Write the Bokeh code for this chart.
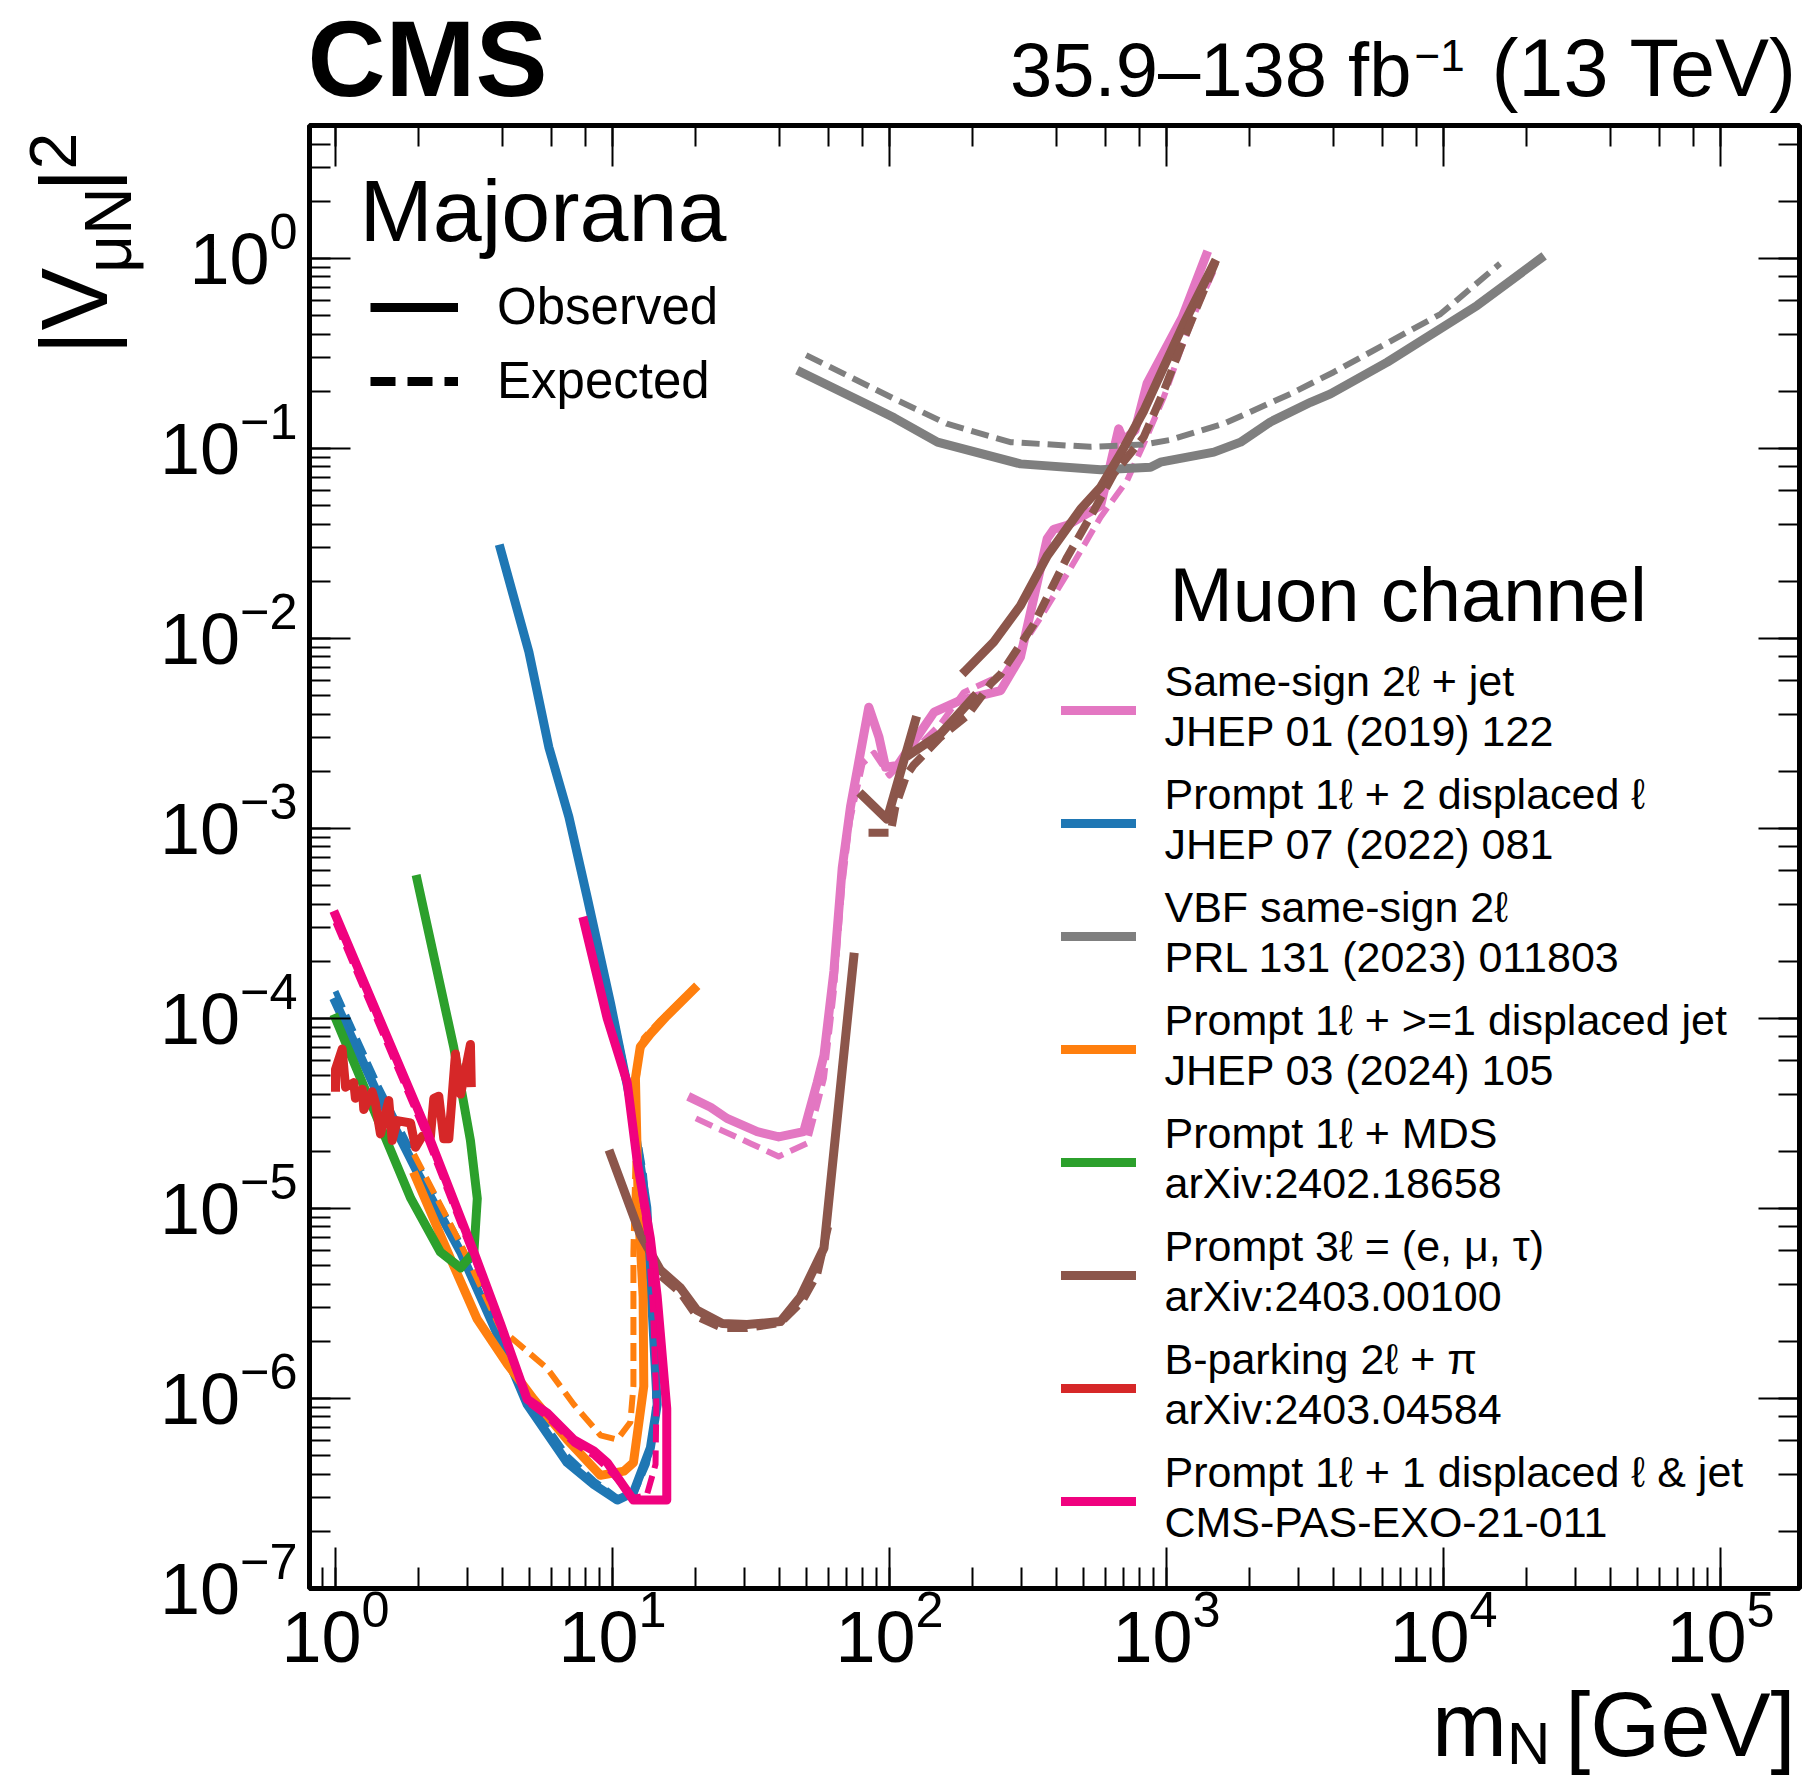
import math
import numpy as np
from bokeh.plotting import figure
from bokeh.layouts import column, row
from bokeh.models import (Range1d, LogAxis, LogTicker, LogScale, Label, Legend, LegendItem,
                          CustomJSTickFormatter)
from bokeh.embed import file_html
from bokeh.resources import INLINE

# ---------------------------------------------------------------------------
# Exclusion limits on |V_muN|^2 versus heavy neutral lepton mass m_N [GeV]
# ---------------------------------------------------------------------------

# Same-sign 2l + jet, JHEP 01 (2019) 122
ss_obs_m = [19.4, 22.6, 25.9, 33.3, 39.8, 49, 54.8, 58, 63, 67.5, 72.3, 84.2, 91.6, 96.8,
            107, 145, 180, 252, 297, 371, 392, 438, 578, 628, 672, 700, 770, 851, 1140, 1390]
ss_obs_v = [3.8e-5, 3.41e-5, 2.98e-5, 2.54e-5, 2.38e-5, 2.54e-5, 4.6e-5, 6.4e-5, 1.78e-4,
            6.2e-4, 1.3e-3, 4.35e-3, 3.03e-3, 2.1e-3, 2.15e-3, 4.1e-3, 4.72e-3, 5.32e-3,
            8.0e-3, 0.0336, 0.0376, 0.0394, 0.05, 0.083, 0.127, 0.11, 0.125, 0.22, 0.49, 1.04]
ss_exp_m = [20, 24.5, 31.5, 39.8, 50.4, 54.8, 58, 63, 67.5, 72, 80, 88, 100, 120, 153, 185,
            259, 305, 351, 438, 578, 721, 828, 977, 1124, 1291, 1483]
ss_exp_v = [2.98e-5, 2.6e-5, 2.2e-5, 1.88e-5, 2.2e-5, 3.5e-5, 4.85e-5, 1.4e-4, 5e-4, 1.1e-3,
            2.2e-3, 2.5e-3, 1.9e-3, 2.5e-3, 3.56e-3, 5.2e-3, 6.5e-3, 9.4e-3, 0.0129, 0.0219,
            0.0435, 0.0679, 0.106, 0.186, 0.328, 0.554, 0.865]

# Prompt 1l + 2 displaced l, JHEP 07 (2022) 081
dl_obs_m = [1.0, 1.41, 1.97, 2.83, 3.94, 4.92, 6.86, 8.56, 10.4, 11.9, 13.7, 14.5, 14.1,
            13.3, 11.6, 9.84, 8.1, 6.96, 5.89, 4.99, 3.94]
dl_obs_v = [1.22e-4, 4.1e-5, 1.56e-5, 5.9e-6, 2.0e-6, 9.3e-7, 4.6e-7, 3.53e-7, 2.92e-7,
            3.2e-7, 5.5e-7, 9.3e-7, 2.0e-6, 1.01e-5, 3.7e-5, 1.2e-4, 4.35e-4, 1.15e-3,
            2.68e-3, 8.5e-3, 0.0296]
dl_exp_m = [1.0, 1.41, 1.97, 2.83, 3.94, 4.92, 6.86, 8.56, 10.4, 11.9, 13.3, 14.2, 14.3,
            13.8, 13.0, 11.6, 9.84, 8.1, 6.96, 5.89, 4.99, 3.94]
dl_exp_v = [1.39e-4, 4.6e-5, 1.75e-5, 6.5e-6, 2.2e-6, 1.0e-6, 5.0e-7, 3.7e-7, 3.0e-7,
            3.1e-7, 4.5e-7, 7.5e-7, 1.6e-6, 5e-6, 1.5e-5, 4e-5, 1.25e-4, 4.4e-4, 1.15e-3,
            2.68e-3, 8.5e-3, 0.0296]

# VBF same-sign 2l, PRL 131 (2023) 011803
vbf_obs_m = [48, 85, 104, 149, 297, 578, 876, 951, 1483, 1850, 2372, 3311, 3909, 6270,
             13240, 22400]
vbf_obs_v = [0.252, 0.168, 0.145, 0.108, 0.083, 0.0773, 0.0797, 0.0847, 0.0957, 0.108,
             0.138, 0.175, 0.194, 0.285, 0.566, 1.0]
vbf_exp_m = [50, 107, 161, 273, 532, 828, 1033, 1610, 2805, 4010, 9750, 16000]
vbf_exp_v = [0.31, 0.179, 0.135, 0.108, 0.102, 0.105, 0.111, 0.135, 0.194, 0.252, 0.51, 0.94]

# Prompt 1l + >=1 displaced jet, JHEP 03 (2024) 105
dj_obs_m = [1.94, 2.67, 3.25, 4.17, 5.2, 6.86, 9.05, 11.0, 11.9, 12.97, 12.9, 12.4, 12.1,
            12.6, 13.7, 15.7, 19.7]
dj_obs_v = [1.48e-5, 5.0e-6, 2.61e-6, 1.52e-6, 9.9e-7, 6.07e-7, 3.94e-7, 4.15e-7, 4.6e-7,
            1.16e-6, 3.43e-6, 1.01e-5, 4.85e-5, 7.1e-5, 8.3e-5, 1.03e-4, 1.43e-4]
dj_exp_m = [1.92, 2.83, 3.94, 5.81, 7.25, 9.05, 10.4, 11.6, 11.9, 11.9, 12.1, 12.3, 12.97,
            14.9, 19.7]
dj_exp_v = [1.93e-5, 6.5e-6, 2.34e-6, 1.44e-6, 9.3e-7, 6.4e-7, 6.07e-7, 7.5e-7, 1.16e-6,
            5.9e-6, 1.74e-5, 5.7e-5, 7.9e-5, 9.8e-5, 1.45e-4]

# Prompt 1l + MDS, arXiv:2402.18658
mds_obs_m = [1.0, 1.87, 2.39, 2.83, 3.16, 3.25, 3.07, 2.67, 1.97]
mds_obs_v = [1.0e-4, 1.13e-5, 5.9e-6, 4.87e-6, 5.9e-6, 1.13e-5, 2.28e-5, 7.1e-5, 5.4e-4]

# Prompt 3l = (e, mu, tau), arXiv:2403.00100 (several mass windows)
tl_obs_m = [[9.84, 12.6, 14.9, 17.6, 20.2, 24.9, 30.6, 40.4, 47.7, 58, 74.3],
            [80, 98, 124],
            [119, 153, 201],
            [188, 238, 297, 371, 490, 578, 682, 828, 977, 1154, 1483]]
tl_obs_v = [[1.93e-5, 7.3e-6, 4.74e-6, 3.82e-6, 2.91e-6, 2.48e-6, 2.45e-6, 2.54e-6, 3.43e-6,
             6.2e-6, 2.1e-4],
            [1.49e-3, 1.12e-3, 3.7e-3],
            [2.47e-3, 3.15e-3, 4.9e-3],
            [6.76e-3, 9.6e-3, 0.0149, 0.0272, 0.048, 0.0625, 0.0938, 0.158, 0.268, 0.453, 0.938]]
tl_exp_m = [[15, 17.6, 20.2, 24.9, 30.6, 40.4, 48.4, 54.8, 60],
            [84, 101, 105, 115, 122, 153, 191, 232, 252, 332, 438, 547, 645, 828, 977, 1124,
             1291, 1500]]
tl_exp_v = [[4.4e-6, 3.6e-6, 2.7e-6, 2.35e-6, 2.35e-6, 2.5e-6, 3.25e-6, 4.5e-6, 8e-6],
            [9.5e-4, 9.5e-4, 1.3e-3, 1.9e-3, 2.15e-3, 3.03e-3, 3.93e-3, 5.78e-3, 6.5e-3,
             0.0119, 0.0268, 0.0472, 0.0736, 0.115, 0.2, 0.34, 0.56, 0.95]]

# B-parking 2l + pi, arXiv:2403.04584
bp_obs_m = [1.0, 1.0, 1.057, 1.087, 1.164, 1.18, 1.25, 1.265, 1.356, 1.393, 1.453, 1.557,
            1.602, 1.671, 1.866, 1.944, 2.056, 2.202, 2.264, 2.36, 2.46, 2.565, 2.71, 2.83,
            3.07, 3.09]
bp_obs_v = [4.35e-5, 5.4e-5, 6.9e-5, 4.35e-5, 4.6e-5, 3.8e-5, 4.24e-5, 3.32e-5, 4.12e-5,
            3.6e-5, 2.47e-5, 3.7e-5, 2.28e-5, 2.9e-5, 2.82e-5, 2.1e-5, 2.4e-5, 2.4e-5,
            3.8e-5, 3.9e-5, 2.33e-5, 2.33e-5, 6.5e-5, 4.0e-5, 7.3e-5, 4.6e-5]

# Prompt 1l + 1 displaced l & jet, CMS-PAS-EXO-21-011
lj_obs_m = [1.0, 2.08, 3.16, 3.94, 4.92, 5.81, 7.25, 8.56, 9.57, 11.9, 15.7, 15.7, 14.5,
            13.7, 12.3, 11.3, 9.57, 7.88]
lj_obs_v = [3.5e-4, 2.82e-5, 5.9e-6, 2.48e-6, 9.9e-7, 8.4e-7, 6.07e-7, 5.3e-7, 4.6e-7,
            2.92e-7, 2.92e-7, 8.85e-7, 3.44e-6, 6.95e-6, 1.74e-5, 4.6e-5, 1.0e-4, 3.25e-4]
lj_exp_m = [1.0, 2.08, 3.16, 3.94, 4.92, 5.81, 7.25, 8.56, 9.57, 11.9, 13.3, 14.3, 14.4,
            14.0, 13.5, 12.3, 11.3, 9.57, 7.88]
lj_exp_v = [3.2e-4, 2.6e-5, 5.5e-6, 2.35e-6, 9.6e-7, 8.0e-7, 5.8e-7, 5.0e-7, 4.3e-7,
            3.0e-7, 3.1e-7, 4.5e-7, 9.5e-7, 3.0e-6, 6.5e-6, 1.7e-5, 4.5e-5, 1.0e-4, 3.25e-4]

# legend text: analysis (first line) and publication (second line)
legend_titles = ["Same-sign 2ℓ + jet", "Prompt 1ℓ + 2 displaced ℓ", "VBF same-sign 2ℓ",
                 "Prompt 1ℓ + >=1 displaced jet", "Prompt 1ℓ + MDS", "Prompt 3ℓ = (e, μ, τ)",
                 "B-parking 2ℓ + π", "Prompt 1ℓ + 1 displaced ℓ & jet"]
legend_refs = ["JHEP 01 (2019) 122", "JHEP 07 (2022) 081", "PRL 131 (2023) 011803",
               "JHEP 03 (2024) 105", "arXiv:2402.18658", "arXiv:2403.00100",
               "arXiv:2403.04584", "CMS-PAS-EXO-21-011"]
colors = ["#e377c2", "#1f77b4", "#7f7f7f", "#ff7f0e", "#2ca02c", "#8c564b", "#d62728",
          "#f0027f"]

# ---------------------------------------------------------------------------
# Page geometry (pixels from the top-left corner of the page)
# ---------------------------------------------------------------------------
FONT = "Liberation Sans"
W, H = 1803, 1779
HEAD_H = 122                                   # header strip (CMS + luminosity)
SIDE_W = 150                                   # strip holding the y-axis title
FOOT_Y = 1678                                  # top of strip holding the x-axis title
FL, FR, FT, FB = 309, 1799, 125, 1588          # plot frame edges
DEC_X, DEC_Y = 277.0, 190.0                    # pixels per decade
X1_PX, Y1_PX = 335.0, 258.0                    # pixel position of x=1 and y=1
MID = 0.38                                     # baseline -> text middle, in em
YLAB_LIFT = 11                                 # raise y tick labels so "10" sits on the tick


def xd(px):
    return 10 ** ((px - X1_PX) / DEC_X)


def yd(py):
    return 10 ** ((Y1_PX - py) / DEC_Y)


def text_strip(x0, y0, w, h):
    """Blank figure whose data coordinates are page pixels."""
    f = figure(width=w, height=h, x_range=Range1d(x0, x0 + w), y_range=Range1d(y0 + h, y0),
               x_axis_location=None, y_axis_location=None, output_backend="svg",
               toolbar_location=None, min_border=0)
    f.outline_line_color = None
    f.xgrid.visible = False
    f.ygrid.visible = False
    f.background_fill_color = "white"
    f.border_fill_color = "white"
    return f


def put(f, text, px, baseline, size, angle=0.0, **kw):
    """Place text by its baseline (for rotated text the baseline is vertical)."""
    if angle:
        x, y = baseline - MID * size, px
    else:
        x, y = px, baseline - MID * size
    f.add_layout(Label(x=x, y=y, text=text, text_font=FONT, text_font_size=f"{size}px",
                       text_color="black", text_baseline="middle", angle=angle, **kw))


def put_in_frame(text, px, baseline, size):
    p.add_layout(Label(x=xd(px), y=yd(baseline - MID * size), text=text, text_font=FONT,
                       text_font_size=f"{size}px", text_color="black",
                       text_baseline="middle"))


# ---------------------------------------------------------------------------
# Main plot
# ---------------------------------------------------------------------------
p = figure(width=W - SIDE_W, height=FOOT_Y - HEAD_H, x_axis_type="log", y_axis_type="log",
           x_range=Range1d(xd(FL), xd(FR)), y_range=Range1d(yd(FB), yd(FT)),
           output_backend="svg", toolbar_location=None,
           min_border_left=FL - SIDE_W, min_border_right=W - FR,
           min_border_top=FT - HEAD_H, min_border_bottom=FOOT_Y - FB)
p.xgrid.visible = False
p.ygrid.visible = False
p.outline_line_color = "black"
p.outline_line_width = 5
p.background_fill_color = "white"
p.border_fill_color = "white"


def style_ticks(ax):
    ax.axis_line_color = None
    ax.major_tick_in = 41
    ax.major_tick_out = 0
    ax.minor_tick_in = 21
    ax.minor_tick_out = 0
    ax.major_tick_line_width = 2
    ax.minor_tick_line_width = 2
    ax.major_tick_line_color = "black"
    ax.minor_tick_line_color = "black"
    ax.axis_label = None


def no_labels(ax):
    ax.formatter = CustomJSTickFormatter(code="return ''")
    ax.major_label_text_font_size = "1px"
    ax.major_label_standoff = 0


def big_labels(ax, standoff):
    ax.major_label_text_font = FONT
    ax.major_label_text_font_size = "72px"
    ax.major_label_text_color = "black"
    ax.major_label_standoff = standoff


# bottom axis: ticks and labels
style_ticks(p.xaxis[0])
big_labels(p.xaxis[0], 0)

# left axis: ticks only; its labels come from a second axis lifted by a few pixels
style_ticks(p.yaxis[0])
no_labels(p.yaxis[0])
p.extra_y_ranges = {"ylab": Range1d(yd(FB + YLAB_LIFT), yd(FT + YLAB_LIFT))}
p.extra_y_scales = {"ylab": LogScale()}
ylab_ax = LogAxis(y_range_name="ylab", ticker=LogTicker())
ylab_ax.axis_line_color = None
ylab_ax.major_tick_line_color = None
ylab_ax.minor_tick_line_color = None
ylab_ax.major_tick_in = 0
ylab_ax.major_tick_out = 0
ylab_ax.minor_tick_in = 0
ylab_ax.minor_tick_out = 0
ylab_ax.axis_label = None
big_labels(ylab_ax, 12)
p.add_layout(ylab_ax, "left")

# mirrored ticks on top and right
top_ax = LogAxis(ticker=LogTicker())
right_ax = LogAxis(ticker=LogTicker())
for ax in (top_ax, right_ax):
    style_ticks(ax)
    no_labels(ax)
p.add_layout(top_ax, "above")
p.add_layout(right_ax, "right")

OBS_W, EXP_W = 9, 6
DASH = "18 8"


def obs(xs, ys, c):
    return p.line(xs, ys, line_color=c, line_width=OBS_W, line_join="round", line_cap="square")


def exp(xs, ys, c, w=EXP_W):
    return p.line(xs, ys, line_color=c, line_width=w, line_dash=DASH, line_join="round")


renderers = []
renderers.append(obs(ss_obs_m, ss_obs_v, colors[0]))
exp(ss_exp_m, ss_exp_v, colors[0])
renderers.append(obs(dl_obs_m, dl_obs_v, colors[1]))
exp(dl_exp_m, dl_exp_v, colors[1])
renderers.append(obs(vbf_obs_m, vbf_obs_v, colors[2]))
exp(vbf_exp_m, vbf_exp_v, colors[2])
renderers.append(obs(dj_obs_m, dj_obs_v, colors[3]))
exp(dj_exp_m, dj_exp_v, colors[3])
renderers.append(obs(mds_obs_m, mds_obs_v, colors[4]))
renderers.append(p.multi_line(tl_obs_m, tl_obs_v, line_color=colors[5], line_width=OBS_W,
                              line_join="round", line_cap="square"))
p.multi_line(tl_exp_m, tl_exp_v, line_color=colors[5], line_width=8, line_dash="20 9",
             line_join="round")
renderers.append(obs(bp_obs_m, bp_obs_v, colors[6]))
renderers.append(obs(lj_obs_m, lj_obs_v, colors[7]))
exp(lj_exp_m, lj_exp_v, colors[7])

# legend swatches for the analyses; each entry carries a two-line caption
ITEM_H, ITEM_GAP = 100, 13
LEG_BOTTOM = 1551                               # page y of the legend's lower edge
leg = Legend(items=[LegendItem(label=" ", renderers=[r]) for r in renderers],
             location=(752, FB - LEG_BOTTOM), label_text_font=FONT,
             label_text_font_size="43px", glyph_width=75, glyph_height=ITEM_H,
             label_height=ITEM_H, label_standoff=30, spacing=ITEM_GAP, padding=0, margin=0,
             border_line_color=None, background_fill_alpha=0)
p.add_layout(leg)
n_items = len(renderers)
for i, (t1, t2) in enumerate(zip(legend_titles, legend_refs)):
    centre = LEG_BOTTOM - ITEM_H / 2 - (n_items - 1 - i) * (ITEM_H + ITEM_GAP)
    put_in_frame(t1, 1164, centre - 13, 43)
    put_in_frame(t2, 1164, centre + 37, 43)

# observed / expected key (style-only renderers, nothing drawn in the frame)
nan = np.array([np.nan])
k_obs = p.line(nan, nan, line_color="black", line_width=9)
k_exp = p.line(nan, nan, line_color="black", line_width=9, line_dash="25 12")
key = Legend(items=[LegendItem(label="Observed", renderers=[k_obs]),
                    LegendItem(label="Expected", renderers=[k_exp])],
             location=(61, 1178), label_text_font=FONT, label_text_font_size="51px",
             label_text_color="black", glyph_width=88, glyph_height=20, label_standoff=39,
             spacing=15, padding=0, margin=0, border_line_color=None,
             background_fill_alpha=0)
p.add_layout(key)

# titles inside the frame
put_in_frame("Majorana", 359, 243, 88)
put_in_frame("Muon channel", 1169, 623, 76)

# ---------------------------------------------------------------------------
# Header: CMS and luminosity
# ---------------------------------------------------------------------------
head = text_strip(0, 0, W, HEAD_H)
put(head, "CMS", 307, 99, 108, text_font_style="bold")
put(head, "35.9–138 fb", 1411, 98, 76, text_align="right")
put(head, "−1", 1414, 72, 44)
put(head, "(13 TeV)", 1797, 98, 81, text_align="right")

# ---------------------------------------------------------------------------
# y-axis title |V_muN|^2, rotated
# ---------------------------------------------------------------------------
side = text_strip(0, HEAD_H, SIDE_W, FOOT_Y - HEAD_H)
YF, YS = 94, 66
rot = math.pi / 2
y0 = 366
put(side, "|V", y0, 110, YF, angle=rot)
y1 = y0 - 0.927 * YF
put(side, "μN", y1, 133, YS, angle=rot)
y2 = y1 - 1.298 * YS
put(side, "|", y2, 110, YF, angle=rot)
y3 = y2 - 0.26 * YF
put(side, "2", y3, 78, YS, angle=rot)

# ---------------------------------------------------------------------------
# x-axis title m_N [GeV]
# ---------------------------------------------------------------------------
foot = text_strip(0, FOOT_Y, W, H - FOOT_Y)
XF, XS = 90, 60
x_end = 1795
x_rest = x_end - 2.557 * XF
x_sub = x_rest - 15 - 0.722 * XS
x_m = x_sub - 0.833 * XF
put(foot, "m", x_m, 1759, XF)
put(foot, "N", x_sub, 1766, XS)
put(foot, "[GeV]", x_rest, 1759, XF)

layout = column(head, row(side, p), foot)
open("out.html", "w").write(file_html(layout, INLINE))
